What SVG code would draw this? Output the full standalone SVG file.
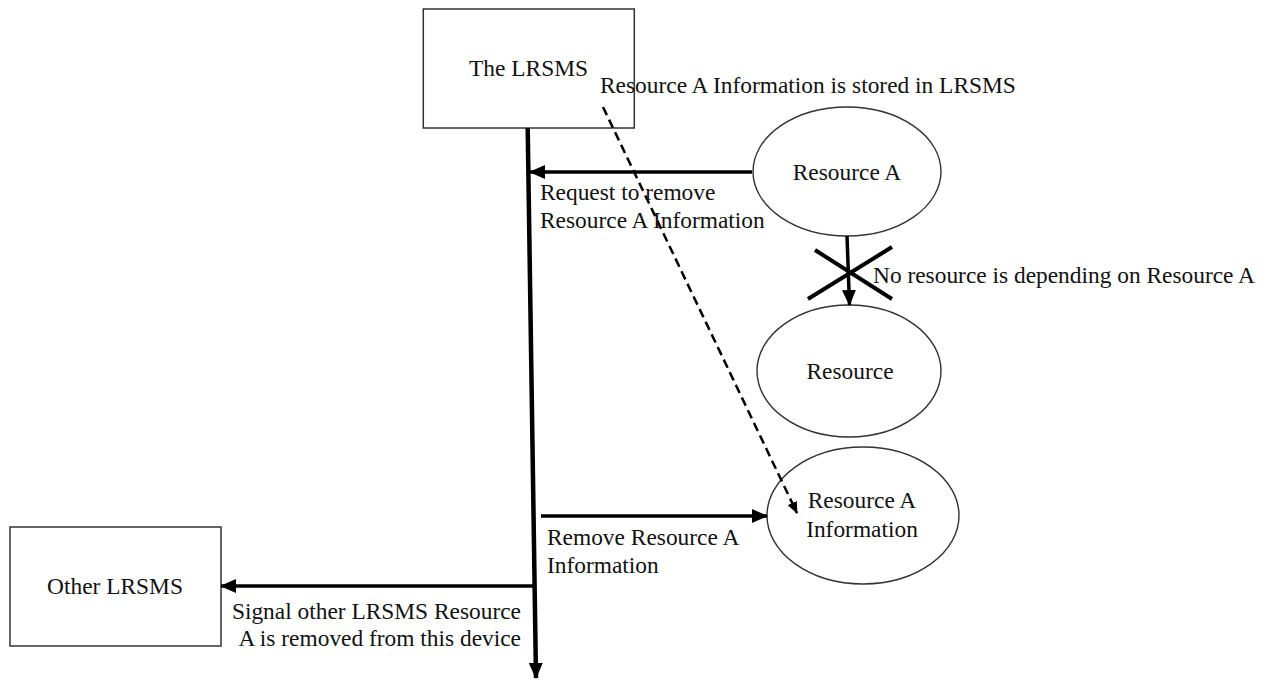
<svg xmlns="http://www.w3.org/2000/svg" width="1266" height="681" viewBox="0 0 1266 681">
  <style>
    text { font-family: "Liberation Serif", "Times New Roman", serif; font-size: 23.4px; fill: #111; }
    .box { fill: #fff; stroke: #333; stroke-width: 1.5; }
    .oval { fill: #fff; stroke: #333; stroke-width: 1.4; }
    .flow { stroke: #000; stroke-width: 3.5; fill: none; }
    .spine { stroke: #000; stroke-width: 4.5; fill: none; }
    .dash { stroke: #000; stroke-width: 2.5; stroke-dasharray: 9 5; fill: none; }
    .cross { stroke: #000; stroke-width: 4; }
  </style>
  <defs>
    <marker id="head" markerUnits="userSpaceOnUse" markerWidth="16" markerHeight="14" refX="15" refY="7" orient="auto">
      <path d="M0,0 L16,7 L0,14 Z" fill="#000"/>
    </marker>
    <marker id="headSmall" markerUnits="userSpaceOnUse" markerWidth="12" markerHeight="10" refX="11" refY="5" orient="auto">
      <path d="M0,0 L12,5 L0,10 Z" fill="#000"/>
    </marker>
  </defs>

  <g id="the-lrsms">
    <rect class="box" x="423.3" y="9" width="211" height="119"/>
    <text x="528.5" y="76" text-anchor="middle">The LRSMS</text>
  </g>

  <g id="resource-a">
    <ellipse class="oval" cx="847" cy="171.5" rx="94" ry="64.5"/>
    <text x="847" y="180" text-anchor="middle">Resource A</text>
  </g>

  <g id="resource">
    <ellipse class="oval" cx="849" cy="371" rx="92" ry="66"/>
    <text x="850" y="379" text-anchor="middle">Resource</text>
  </g>

  <g id="resource-a-information">
    <ellipse class="oval" cx="863" cy="515.5" rx="96" ry="68.5"/>
    <text x="862" y="508" text-anchor="middle">Resource A</text>
    <text x="862" y="537" text-anchor="middle">Information</text>
  </g>

  <g id="other-lrsms">
    <rect class="box" x="10" y="527" width="211" height="119"/>
    <text x="115" y="594" text-anchor="middle">Other LRSMS</text>
  </g>

  <!-- connectors, drawn over the nodes -->
  <g id="connectors">
    <line class="spine" x1="527.7" y1="128" x2="536" y2="678" marker-end="url(#head)"/>
    <line class="flow" x1="752" y1="172" x2="530" y2="172" marker-end="url(#head)"/>
    <line class="flow" x1="541" y1="516" x2="767" y2="516" marker-end="url(#head)"/>
    <line class="flow" x1="534" y1="586" x2="221" y2="586" marker-end="url(#head)"/>
    <line class="flow" x1="847" y1="236" x2="849.5" y2="305" marker-end="url(#head)"/>
    <line class="dash" x1="603" y1="107" x2="797" y2="513" marker-end="url(#headSmall)"/>
    <line class="cross" x1="815" y1="250" x2="892" y2="299"/>
    <line class="cross" x1="808" y1="299" x2="892" y2="247"/>
    <text x="600" y="93">Resource A Information is stored in LRSMS</text>
    <text x="540" y="200">Request to remove</text>
    <text x="540" y="228">Resource A Information</text>
    <text x="547" y="545">Remove Resource A</text>
    <text x="547" y="573">Information</text>
    <text x="521" y="619" text-anchor="end">Signal other LRSMS Resource</text>
    <text x="521" y="646" text-anchor="end">A is removed from this device</text>
    <text x="873" y="283">No resource is depending on Resource A</text>
  </g>
</svg>
